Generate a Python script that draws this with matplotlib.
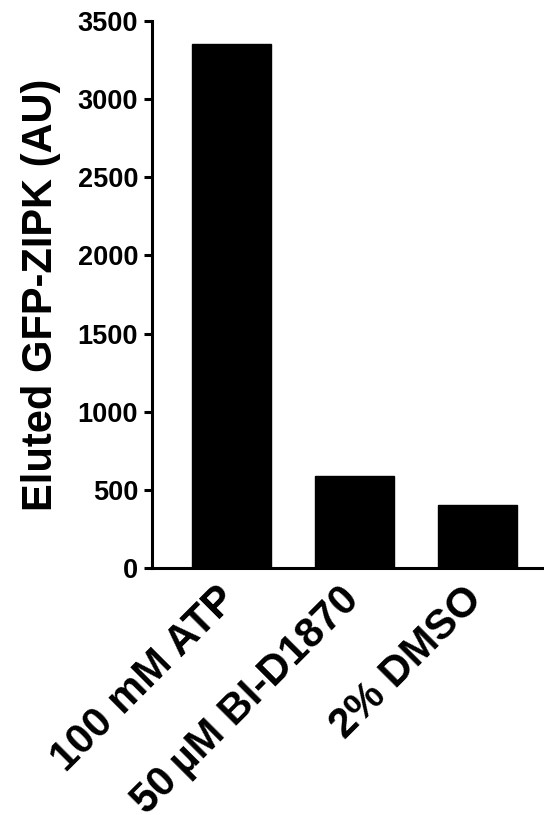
import numpy as np
import matplotlib
matplotlib.use("Agg")
import matplotlib.pyplot as plt
import matplotlib.transforms as mtransforms

# Eluted GFP-ZIPK signal per treatment
conditions = ["100 mM ATP", "50\u2009µM BI-D1870", "2% DMSO"]
eluted_au = [3350, 590, 400]
y_ticks = [0, 500, 1000, 1500, 2000, 2500, 3000, 3500]

plt.rcParams['font.family'] = ['Liberation Sans', 'DejaVu Sans']
plt.rcParams['font.weight'] = 'bold'

fig = plt.figure(figsize=(5.44, 8.15), dpi=100)
ax = fig.add_axes([0.2794, 0.3031, 0.7206, 0.6711])

x = np.arange(len(conditions))
ax.bar(x, eluted_au, width=0.64, color='black', edgecolor='black')

ax.set_xlim(-0.646, 2.54)
ax.set_ylim(0, 3500)

for side in ['top', 'right']:
    ax.spines[side].set_visible(False)
for side in ['left', 'bottom']:
    ax.spines[side].set_linewidth(2.2)
ax.tick_params(axis='y', length=6, width=2.2, pad=4)
ax.tick_params(axis='x', length=0, pad=8)

ax.set_yticks(y_ticks)
ax.set_yticklabels([str(v) for v in y_ticks], fontsize=19.5, fontweight='bold')
ax.set_xticks(x)
ax.set_xticklabels(conditions, fontsize=30, fontweight='bold',
                   rotation=45, ha='right', va='top', rotation_mode='anchor')
ax.set_ylabel("Eluted GFP-ZIPK (AU)", fontsize=30, fontweight='bold', labelpad=12)

# nudge the slanted category labels a little to the left
shift = mtransforms.ScaledTranslation(-0.16, 0, fig.dpi_scale_trans)
for lbl in ax.get_xticklabels():
    lbl.set_transform(lbl.get_transform() + shift)

fig.savefig("out.png", dpi=100)
